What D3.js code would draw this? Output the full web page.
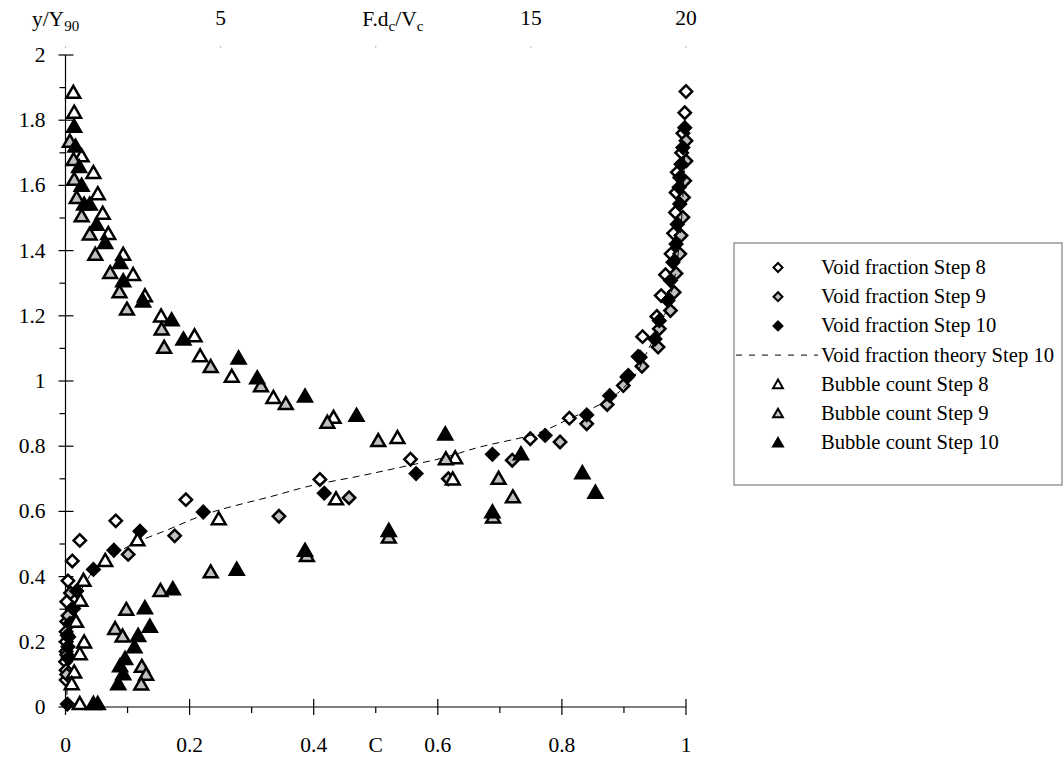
<!DOCTYPE html>
<html>
<head>
<meta charset="utf-8">
<script src="https://cdn.jsdelivr.net/npm/d3@7"></script>
<style>
  body { margin: 0; background: #fff; }
  svg text { font-family: 'Liberation Serif', 'DejaVu Serif', 'Times New Roman', Times, serif; fill: #000; }
</style>
</head>
<body>
<script>
// each point is [C, y/Y90]; bubble counts are plotted as F.dc/Vc on the top axis, given here already as C-equivalent (F/20)
const voidStep8 = [
  [1.0, 1.888], [0.998, 1.823], [0.995, 1.76], [0.993, 1.70], [0.986, 1.640], [0.984, 1.578],
  [0.983, 1.517], [0.980, 1.453], [0.976, 1.390], [0.967, 1.326], [0.960, 1.262], [0.953, 1.198],
  [0.930, 1.136], [0.923, 1.075], [0.905, 1.012], [0.812, 0.886], [0.749, 0.823], [0.556, 0.760],
  [0.410, 0.698], [0.194, 0.636], [0.081, 0.571], [0.023, 0.511], [0.011, 0.448], [0.004, 0.387],
  [0.002, 0.323], [0.002, 0.262], [0.001, 0.231], [0.001, 0.200], [0.001, 0.170], [0.0, 0.139],
  [0.001, 0.113], [0.001, 0.083]
];
const voidStep9 = [
  [1.0, 1.737], [1.0, 1.675], [0.998, 1.614], [0.996, 1.563], [0.995, 1.502], [0.992, 1.446],
  [0.990, 1.390], [0.984, 1.330], [0.981, 1.272], [0.975, 1.216], [0.957, 1.160], [0.955, 1.104],
  [0.929, 1.045], [0.899, 0.986], [0.873, 0.928], [0.840, 0.869], [0.797, 0.813], [0.720, 0.757],
  [0.617, 0.700], [0.457, 0.642], [0.344, 0.585], [0.176, 0.525], [0.101, 0.468], [0.008, 0.35],
  [0.004, 0.28], [0.003, 0.22], [0.002, 0.16], [0.002, 0.10]
];
const voidStep10 = [
  [0.998, 1.777], [0.995, 1.716], [0.992, 1.665], [0.990, 1.624], [0.989, 1.594], [0.990, 1.543],
  [0.986, 1.481], [0.984, 1.420], [0.979, 1.364], [0.975, 1.308], [0.971, 1.247], [0.957, 1.185],
  [0.950, 1.129], [0.926, 1.073], [0.907, 1.017], [0.877, 0.955], [0.840, 0.896], [0.773, 0.833],
  [0.688, 0.775], [0.565, 0.716], [0.417, 0.656], [0.222, 0.598], [0.120, 0.539], [0.078, 0.481],
  [0.045, 0.422], [0.018, 0.356], [0.013, 0.302], [0.007, 0.256], [0.005, 0.215], [0.004, 0.185],
  [0.004, 0.150], [0.003, 0.009]
];
const theoryStep10 = [
  [0.002, 0.0], [0.003, 0.1], [0.005, 0.2], [0.01, 0.28], [0.02, 0.34], [0.035, 0.39],
  [0.05, 0.43], [0.08, 0.47], [0.12, 0.51], [0.16, 0.54], [0.24, 0.60], [0.33, 0.645],
  [0.41, 0.685], [0.47, 0.707], [0.556, 0.742], [0.593, 0.757], [0.673, 0.80], [0.743, 0.83],
  [0.812, 0.884], [0.877, 0.945], [0.91, 1.0], [0.94, 1.1], [0.965, 1.2], [0.98, 1.3],
  [0.988, 1.4], [0.993, 1.5], [0.996, 1.6], [0.998, 1.7], [0.999, 1.8]
];
const bubbleStep8 = [
  [0.0126, 1.881], [0.014, 1.820], [0.026, 1.686], [0.045, 1.635], [0.052, 1.570], [0.060, 1.510],
  [0.069, 1.448], [0.093, 1.384], [0.109, 1.322], [0.128, 1.257], [0.154, 1.195], [0.208, 1.134],
  [0.217, 1.073], [0.268, 1.010], [0.335, 0.945], [0.432, 0.884], [0.535, 0.822], [0.628, 0.760],
  [0.624, 0.695], [0.436, 0.634], [0.247, 0.573], [0.116, 0.508], [0.064, 0.445], [0.029, 0.384],
  [0.024, 0.323], [0.017, 0.258], [0.030, 0.195], [0.023, 0.159], [0.014, 0.103], [0.010, 0.067],
  [0.023, 0.006]
];
const bubbleStep9 = [
  [0.007, 1.731], [0.013, 1.675], [0.014, 1.614], [0.018, 1.558], [0.026, 1.502], [0.039, 1.446],
  [0.048, 1.384], [0.072, 1.328], [0.087, 1.269], [0.099, 1.216], [0.155, 1.155], [0.159, 1.099],
  [0.234, 1.040], [0.315, 0.981], [0.355, 0.926], [0.422, 0.869], [0.504, 0.813], [0.613, 0.757],
  [0.698, 0.697], [0.721, 0.640], [0.689, 0.578], [0.521, 0.517], [0.389, 0.460], [0.234, 0.410],
  [0.153, 0.353], [0.098, 0.295], [0.080, 0.236], [0.092, 0.213], [0.123, 0.120], [0.130, 0.096],
  [0.122, 0.066]
];
const bubbleStep10 = [
  [0.014, 1.777], [0.016, 1.716], [0.022, 1.653], [0.026, 1.596], [0.030, 1.538], [0.039, 1.538],
  [0.050, 1.476], [0.064, 1.420], [0.088, 1.359], [0.093, 1.303], [0.125, 1.241], [0.171, 1.183],
  [0.190, 1.124], [0.279, 1.066], [0.309, 1.005], [0.386, 0.949], [0.469, 0.890], [0.612, 0.833],
  [0.734, 0.772], [0.833, 0.714], [0.854, 0.654], [0.688, 0.594], [0.521, 0.537], [0.386, 0.476],
  [0.276, 0.418], [0.173, 0.358], [0.128, 0.300], [0.136, 0.243], [0.117, 0.215], [0.111, 0.180],
  [0.096, 0.144], [0.088, 0.122], [0.093, 0.097], [0.085, 0.067], [0.045, 0.006], [0.052, 0.006]
];

const xTicks = [0, 0.2, 0.4, 0.6, 0.8, 1];
const xMinorTicks = [0.1, 0.3, 0.5, 0.7, 0.9];
const yTicks = [0, 0.2, 0.4, 0.6, 0.8, 1, 1.2, 1.4, 1.6, 1.8, 2];
const yMinorTicks = [0.1, 0.3, 0.5, 0.7, 0.9, 1.1, 1.3, 1.5, 1.7, 1.9];
const topTickLabels = [5, 15, 20];
const topTicks = [0, 5, 10, 15, 20];

const legendNames = [
  "Void fraction Step 8", "Void fraction Step 9", "Void fraction Step 10",
  "Void fraction theory Step 10", "Bubble count Step 8", "Bubble count Step 9", "Bubble count Step 10"
];

const FONT = "'Liberation Serif', 'DejaVu Serif', 'Times New Roman', serif";

let margin = null,
  width = null,
  height = null;

let svg = null, root = null;
let x, y, xTop = null; // scales

main();

function main() {
  setupCanvasSize();
  appendSvg("body");
  setupScales();
  appendXAxis();
  appendYAxis();
  appendTopAxis();
  addSeries();
  addLegend();
}

function setupCanvasSize() {
  margin = { top: 55, left: 65.5, bottom: 59, right: 378 };
  width = 1064 - margin.left - margin.right;
  height = 766 - margin.top - margin.bottom;
}

function appendSvg(domElement) {
  root = d3.select(domElement).append("svg")
    .attr("width", 1064)
    .attr("height", 766)
    .attr("font-family", FONT);
  svg = root.append("g")
    .attr("transform", `translate(${margin.left}, ${margin.top})`);
}

function setupScales() {
  x = d3.scaleLinear().domain([0, 1]).range([0, width]);
  xTop = d3.scaleLinear().domain([0, 20]).range([0, width]);
  y = d3.scaleLinear().domain([0, 2]).range([height, 0]);
}

function label(sel, size) {
  return sel.style("font-family", FONT).style("font-size", size + "px");
}

function appendXAxis() {
  let g = svg.append("g").attr("transform", `translate(0, ${height})`);
  g.append("line").attr("x1", 0).attr("x2", width).attr("stroke", "#000").attr("stroke-width", 1.2);
  g.selectAll(".maj").data(xTicks).enter().append("line")
    .attr("x1", d => x(d)).attr("x2", d => x(d))
    .attr("y1", -8).attr("y2", 8)
    .attr("stroke", "#000").attr("stroke-width", 1.2);
  g.selectAll(".min").data(xMinorTicks).enter().append("line")
    .attr("x1", d => x(d)).attr("x2", d => x(d))
    .attr("y1", 0).attr("y2", 6)
    .attr("stroke", "#000").attr("stroke-width", 1.2);
  label(g.selectAll(".lab").data(xTicks).enter().append("text"), 21.5)
    .attr("x", d => x(d)).attr("y", 45)
    .attr("text-anchor", "middle")
    .text(d => d3.format("")(d));
  label(g.append("text"), 21.5)
    .attr("x", x(0.5)).attr("y", 45)
    .attr("text-anchor", "middle")
    .text("C");
}

function appendYAxis() {
  let g = svg.append("g");
  g.append("line").attr("y1", 0).attr("y2", height).attr("stroke", "#000").attr("stroke-width", 1.2);
  g.selectAll(".maj").data(yTicks).enter().append("line")
    .attr("y1", d => y(d)).attr("y2", d => y(d))
    .attr("x1", -7).attr("x2", 8)
    .attr("stroke", "#000").attr("stroke-width", 1.2);
  g.selectAll(".min").data(yMinorTicks).enter().append("line")
    .attr("y1", d => y(d)).attr("y2", d => y(d))
    .attr("x1", -6).attr("x2", 0)
    .attr("stroke", "#000").attr("stroke-width", 1.2);
  label(g.selectAll(".lab").data(yTicks).enter().append("text"), 21.5)
    .attr("x", -20).attr("y", d => y(d) + 7)
    .attr("text-anchor", "end")
    .text(d => d3.format("")(d));
}

function appendTopAxis() {
  let g = svg.append("g");
  g.selectAll(".tk").data(topTicks).enter().append("line")
    .attr("x1", d => xTop(d)).attr("x2", d => xTop(d))
    .attr("y1", -9).attr("y2", -7)
    .attr("stroke", "#bbb").attr("stroke-width", 1);
  label(g.selectAll(".lab").data(topTickLabels).enter().append("text"), 21.5)
    .attr("x", d => xTop(d)).attr("y", -30)
    .attr("text-anchor", "middle")
    .text(d => d);

  // y/Y90 label
  let t1 = label(g.append("text"), 21.5).attr("x", -10).attr("y", -29)
    .attr("text-anchor", "middle");
  t1.append("tspan").text("y/Y");
  t1.append("tspan").attr("dy", 5).style("font-size", "15px").text("90");

  // F.dc/Vc label
  let t2 = label(g.append("text"), 21.5).attr("x", xTop(10) + 17).attr("y", -29)
    .attr("text-anchor", "middle");
  t2.append("tspan").text("F.d");
  t2.append("tspan").attr("dy", 5).style("font-size", "15px").text("c");
  t2.append("tspan").attr("dy", -5).text("/V");
  t2.append("tspan").attr("dy", 5).style("font-size", "15px").text("c");
}

function markerPath(kind, big) {
  if (kind === "diamond") {
    return d3.symbol(d3.symbolSquare, big ? 76 : 40)();
  }
  return d3.symbol(d3.symbolTriangle, big ? 82 : 42)();
}

function drawPoints(data, kind, fill) {
  svg.append("g").selectAll("path")
    .data(data)
    .enter()
    .append("path")
    .attr("d", markerPath(kind, true))
    .attr("transform", d => kind === "diamond"
      ? `translate(${x(d[0])}, ${y(d[1])}) rotate(45)`
      : `translate(${x(d[0])}, ${y(d[1])})`)
    .attr("fill", fill)
    .attr("stroke", "#000")
    .attr("stroke-width", 2.5)
    .attr("stroke-linejoin", "miter");
}

function addSeries() {
  drawPoints(voidStep8, "diamond", "#fff");
  drawPoints(voidStep9, "diamond", "#c0c0c0");
  drawPoints(voidStep10, "diamond", "#000");

  let valueline = d3.line()
    .x(d => x(d[0]))
    .y(d => y(d[1]))
    .curve(d3.curveMonotoneY);
  svg.append("path")
    .datum(theoryStep10)
    .attr("d", valueline)
    .attr("fill", "none")
    .attr("stroke", "#000")
    .attr("stroke-width", 1)
    .attr("stroke-dasharray", "7,5");

  drawPoints(bubbleStep8, "triangle", "#fff");
  drawPoints(bubbleStep9, "triangle", "#c0c0c0");
  drawPoints(bubbleStep10, "triangle", "#000");
}

function addLegend() {
  let lg = root.append("g").attr("transform", "translate(734, 243)");
  lg.append("rect")
    .attr("width", 328).attr("height", 242)
    .attr("fill", "#fff").attr("stroke", "#808080").attr("stroke-width", 1.2);

  let kinds = ["diamond", "diamond", "diamond", "line", "triangle", "triangle", "triangle"];
  let fills = ["#fff", "#c0c0c0", "#000", null, "#fff", "#c0c0c0", "#000"];

  legendNames.forEach(function (name, i) {
    let cy = 24.5 + i * 29.2;
    if (kinds[i] === "line") {
      lg.append("line")
        .attr("x1", 2).attr("x2", 84).attr("y1", cy).attr("y2", cy)
        .attr("stroke", "#000").attr("stroke-width", 1)
        .attr("stroke-dasharray", "6,7");
    } else {
      lg.append("path")
        .attr("d", markerPath(kinds[i], false))
        .attr("transform", kinds[i] === "diamond"
          ? `translate(44, ${cy}) rotate(45)` : `translate(44, ${cy + 1})`)
        .attr("fill", fills[i])
        .attr("stroke", "#000")
        .attr("stroke-width", 2);
    }
    label(lg.append("text"), 20.6)
      .attr("x", 87).attr("y", cy + 6.5)
      .text(name);
  });
}
</script>
</body>
</html>
